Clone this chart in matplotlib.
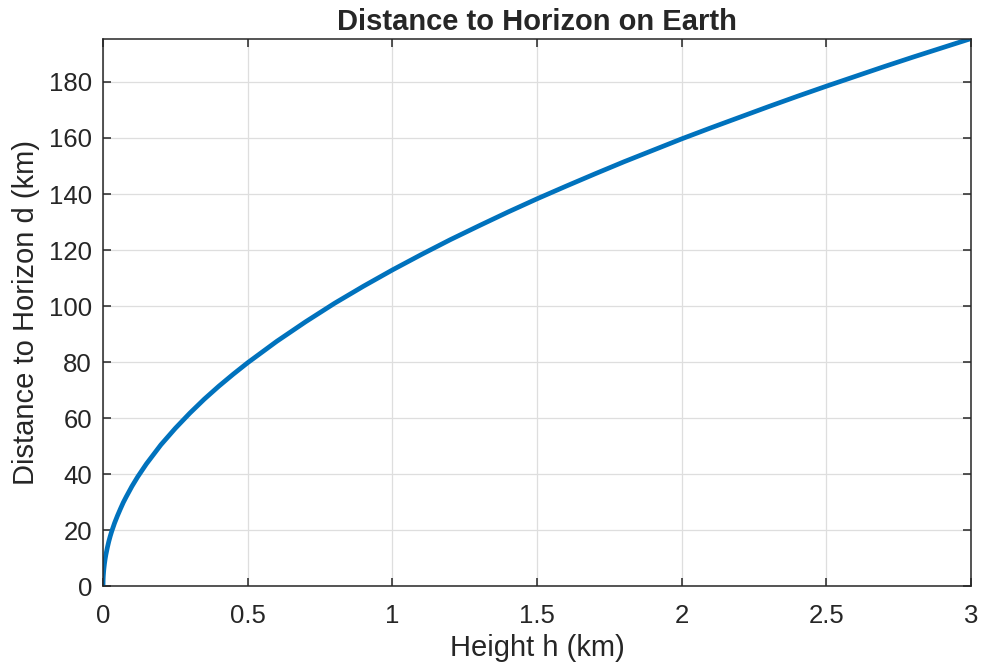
import matplotlib
matplotlib.use('Agg')
import matplotlib.pyplot as plt

# Values
height_km = [0, 0.0005, 0.001, 0.002, 0.003, 0.005, 0.0075, 0.01, 0.015, 0.02, 0.025,
             0.03, 0.04, 0.05, 0.06, 0.07, 0.08, 0.1, 0.12, 0.15, 0.2, 0.25, 0.3,
             0.35, 0.4, 0.45, 0.5, 0.6, 0.7, 0.8, 0.9, 1.0, 1.1, 1.2, 1.3, 1.4, 1.5,
             1.6, 1.7, 1.8, 1.9, 2.0, 2.1, 2.2, 2.3, 2.4, 2.5, 2.6, 2.7, 2.8, 2.9, 3.0]
distance_km = [0, 2.5, 3.6, 5.0, 6.2, 8.0, 9.8, 11.3, 13.8, 16.0, 17.9,
               19.6, 22.6, 25.2, 27.6, 29.9, 31.9, 35.7, 39.1, 43.7, 50.5, 56.4, 61.8,
               66.8, 71.4, 75.7, 79.8, 87.4, 94.4, 101.0, 107.1, 112.9, 118.4, 123.7, 128.7, 133.6, 138.3,
               142.8, 147.2, 151.5, 155.6, 159.7, 163.6, 167.4, 171.2, 174.9, 178.5, 182.0, 185.5, 188.9, 192.2, 195.5]
x_ticks = [0, 0.5, 1, 1.5, 2, 2.5, 3]
x_tick_labels = ['0', '0.5', '1', '1.5', '2', '2.5', '3']
y_ticks = [0, 20, 40, 60, 80, 100, 120, 140, 160, 180]

plt.rcParams['font.family'] = ['Liberation Sans', 'DejaVu Sans']
txt = '#262626'

fig = plt.figure(figsize=(9.81, 6.64), dpi=100)
ax = fig.add_axes([0.105, 0.117, 0.885, 0.825])

ax.plot(height_km, distance_km, color='#0072BD', linewidth=3.4,
        solid_capstyle='butt', solid_joinstyle='round')

ax.set_xlim(0, 3)
ax.set_ylim(0, 195.5)
ax.set_xticks(x_ticks)
ax.set_xticklabels(x_tick_labels)
ax.set_yticks(y_ticks)

ax.grid(True, color='#dedede', linewidth=0.9)
ax.set_axisbelow(True)
for s in ax.spines.values():
    s.set_color(txt)
    s.set_linewidth(1.1)
ax.tick_params(direction='in', length=6, width=1.1, colors=txt, labelsize=18.5,
               top=True, right=True)
ax.tick_params(axis='x', pad=13)
ax.tick_params(axis='y', pad=8)

ax.set_title('Distance to Horizon on Earth', fontsize=21, fontweight='bold', color=txt, pad=6)
ax.set_xlabel('Height h (km)', fontsize=21, color=txt, labelpad=4)
ax.set_ylabel('Distance to Horizon d (km)', fontsize=21, color=txt, labelpad=6)

fig.savefig('out.png', dpi=100)
